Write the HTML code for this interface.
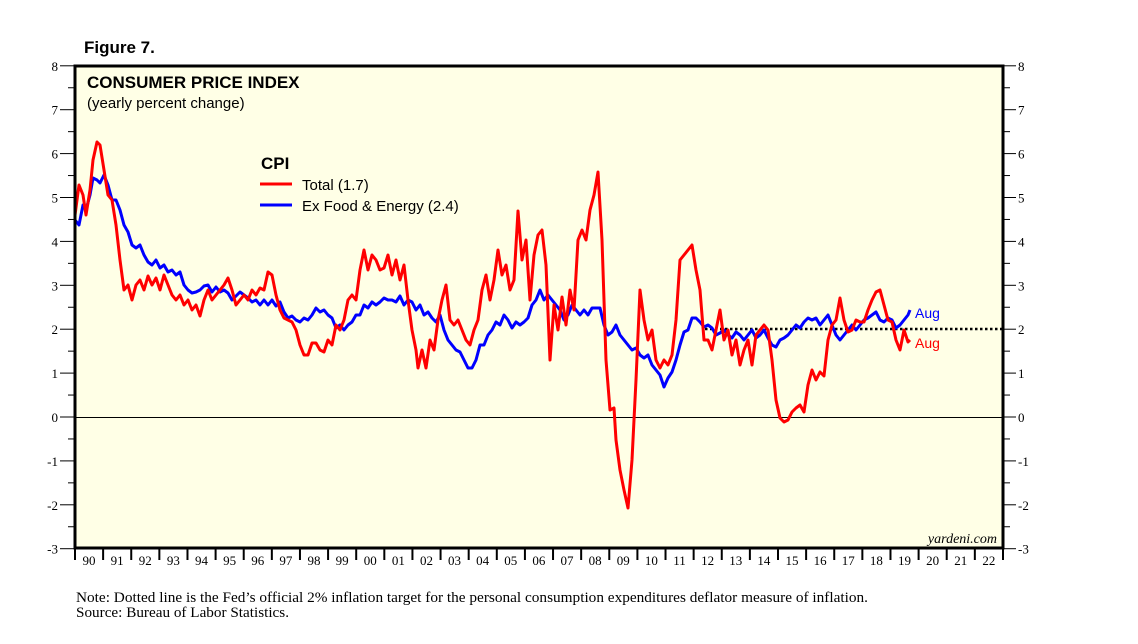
<!DOCTYPE html>
<html><head><meta charset="utf-8"><style>
body{margin:0;background:#fff;width:1138px;height:644px;overflow:hidden}
svg{display:block}
</style></head><body>
<svg id="s" width="1138" height="644" xmlns="http://www.w3.org/2000/svg" font-family="Liberation Sans, sans-serif">
<rect x="75" y="66" width="928" height="482" fill="#ffffe6"/>
<text x="84" y="53" font-size="17" font-weight="bold">Figure 7.</text>
<text x="87" y="88" font-size="17" font-weight="bold">CONSUMER PRICE INDEX</text>
<text x="87" y="108" font-size="15">(yearly percent change)</text>
<text x="261" y="169" font-size="17" font-weight="bold">CPI</text>
<line x1="260" y1="184" x2="292" y2="184" stroke="#f00" stroke-width="3"/>
<text x="302" y="190" font-size="15">Total (1.7)</text>
<line x1="260" y1="205" x2="292" y2="205" stroke="#00f" stroke-width="3"/>
<text x="302" y="211" font-size="15">Ex Food &amp; Energy (2.4)</text>
<line x1="75" y1="417.5" x2="1003" y2="417.5" stroke="#000" stroke-width="1"/>
<line x1="705" y1="329" x2="1003" y2="329" stroke="#000" stroke-width="2.5" stroke-dasharray="2.5,2.5"/>
<g id="g"></g>
<text x="915" y="318" font-size="14" fill="#00f">Aug</text>
<text x="915" y="348" font-size="14" fill="#f00">Aug</text>
<text x="997" y="543" font-size="14" font-style="italic" font-family="Liberation Serif, serif" text-anchor="end">yardeni.com</text>
<rect x="75" y="66" width="928" height="482" fill="none" stroke="#000" stroke-width="3"/>
<text x="76" y="602" font-size="14.5" font-family="Liberation Serif, serif" textLength="792" lengthAdjust="spacingAndGlyphs">Note: Dotted line is the Fed’s official 2% inflation target for the personal consumption expenditures deflator measure of inflation.</text>
<text x="76" y="617" font-size="14.5" font-family="Liberation Serif, serif" textLength="213" lengthAdjust="spacingAndGlyphs">Source: Bureau of Labor Statistics.</text>
</svg>
<script>
var g=document.getElementById('g'),h='';
var red=[75,215,79,185,83,195,86,215,90,190,93,160,97,142,100,145,104,170,108,195,112,200,116,225,120,260,124,290,128,285,132,300,136,285,140,280,144,290,148,276,152,285,156,278,160,290,164,275,168,285,172,295,176,300,180,295,184,305,188,300,192,310,196,305,200,316,204,300,208,290,212,300,216,295,220,290,224,285,228,278,232,290,236,305,240,300,244,295,248,300,252,290,256,295,260,288,264,290,268,272,272,275,276,295,280,310,284,318,288,320,292,322,296,330,300,345,304,355,308,355,312,343,316,343,320,350,324,352,328,340,332,345,336,325,340,330,344,320,348,300,352,295,356,300,360,270,364,250,368,270,372,255,376,260,380,270,384,268,388,255,392,275,396,260,400,280,404,265,408,300,412,330,416,350,418,368,422,350,426,368,430,340,434,350,438,320,442,300,446,285,450,320,454,325,458,320,462,330,466,340,470,345,474,330,478,320,482,290,486,275,490,300,494,280,498,250,502,275,506,265,510,290,514,280,518,211,522,260,526,240,530,300,534,255,538,235,542,230,546,265,550,360,554,305,558,330,562,297,566,325,570,290,574,310,578,240,582,230,586,240,590,210,594,195,598,172,602,240,606,360,610,410,614,408,616,440,620,470,624,490,628,508,632,460,636,380,640,290,644,320,648,340,652,330,656,360,660,368,664,360,668,365,672,355,676,320,680,260,684,255,688,250,692,245,696,270,700,290,704,340,708,340,712,350,716,330,720,310,724,340,728,330,732,355,736,340,740,365,744,350,748,340,752,365,756,335,760,330,764,325,768,330,772,360,776,400,780,418,784,422,788,420,792,412,796,408,800,405,804,412,808,385,812,370,816,380,820,372,824,376,828,340,832,325,836,320,840,298,844,320,848,332,852,330,856,320,860,322,864,322,868,310,872,300,876,292,880,290,884,305,888,320,892,322,896,340,900,350,904,330,908,342,910,340];
var blue=[75,220,79,225,83,205,86,210,90,195,93,178,97,180,100,183,104,175,108,185,112,200,116,200,120,210,124,225,128,232,132,245,136,248,140,245,144,255,148,262,152,265,156,260,160,268,164,265,168,272,172,270,176,275,180,272,184,285,188,290,192,293,196,292,200,290,204,286,208,285,212,292,216,287,220,292,224,290,228,293,232,300,236,296,240,292,244,295,248,298,252,302,256,300,260,305,264,300,268,305,272,300,276,306,280,302,284,312,288,318,292,316,296,320,300,322,304,318,308,320,312,315,316,308,320,312,324,310,328,315,332,318,336,328,340,325,344,330,348,325,352,322,356,315,360,315,364,305,368,308,372,302,376,305,380,302,384,298,388,300,392,300,396,302,400,296,404,305,408,300,412,302,416,310,420,305,424,315,428,312,432,318,436,322,440,315,444,330,448,340,452,345,456,350,460,352,464,360,468,368,472,368,476,360,480,345,484,345,488,335,492,330,496,322,500,325,504,315,508,320,512,328,516,322,520,325,524,322,528,318,532,305,536,300,540,290,544,300,548,295,552,300,556,305,560,310,564,320,568,315,572,305,576,310,580,315,584,310,588,315,592,308,596,308,600,308,604,325,608,335,612,332,616,325,620,335,624,340,628,345,632,350,636,348,640,355,644,358,648,355,652,365,656,370,660,375,664,387,668,378,672,372,676,360,680,345,684,332,688,330,692,318,696,318,700,322,704,327,708,325,712,328,716,335,720,333,724,330,728,335,732,338,736,332,740,335,744,340,748,335,752,330,756,338,760,335,764,330,768,338,772,345,776,347,780,340,784,338,788,335,792,330,796,325,800,328,804,322,808,318,812,320,816,318,820,325,824,320,828,315,832,325,836,335,840,340,844,335,848,330,852,325,856,330,860,325,864,320,868,318,872,315,876,312,880,320,884,322,888,318,892,320,896,328,900,325,904,320,908,315,910,310];
h+='<polyline fill="none" stroke="#00f" stroke-width="3" stroke-linejoin="round" points="'+blue.join(' ')+'"/>';
h+='<polyline fill="none" stroke="#f00" stroke-width="3" stroke-linejoin="round" points="'+red.join(' ')+'"/>';
var pu=43.9;
for(var v=-3;v<=8;v++){var y=417-v*pu;
h+='<line x1="60" y1="'+y+'" x2="75" y2="'+y+'" stroke="#000"/><line x1="1003" y1="'+y+'" x2="1016" y2="'+y+'" stroke="#000"/>';
h+='<text x="58" y="'+(y+5)+'" font-size="13" text-anchor="end" font-family="Liberation Serif, serif">'+v+'</text>';
h+='<text x="1018" y="'+(y+5)+'" font-size="13" font-family="Liberation Serif, serif">'+v+'</text>';
if(v<8){var y2=y-pu/2;h+='<line x1="68" y1="'+y2+'" x2="75" y2="'+y2+'" stroke="#000"/><line x1="1003" y1="'+y2+'" x2="1010" y2="'+y2+'" stroke="#000"/>';}}
for(var i=0;i<33;i++){var x=75+i*28.12;h+='<line x1="'+x+'" y1="548" x2="'+x+'" y2="560" stroke="#000" stroke-width="2"/>';
var yr=(1990+i)%100;h+='<text x="'+(x+14)+'" y="565" font-size="13" text-anchor="middle" font-family="Liberation Serif, serif">'+(yr<10?'0'+yr:yr)+'</text>';}
h+='<line x1="1003" y1="548" x2="1003" y2="560" stroke="#000" stroke-width="2"/>';
g.innerHTML=h;
</script>
</body></html>
